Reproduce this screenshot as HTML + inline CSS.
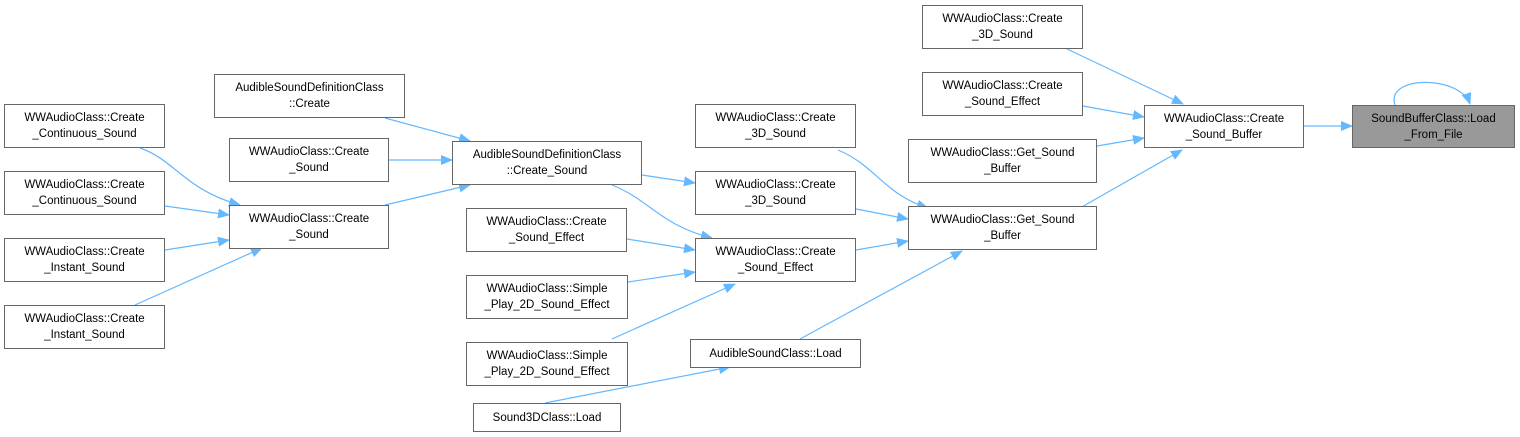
<!DOCTYPE html>
<html><head><meta charset="utf-8"><style>
body{margin:0;width:1520px;height:437px;background:#fff;position:relative;overflow:hidden;font-family:"Liberation Sans",Arial,sans-serif;}
.b{position:absolute;box-sizing:border-box;border:1px solid #666;background:#fff;font-size:11.5px;line-height:16px;color:#000;text-align:center;display:flex;align-items:center;justify-content:center;}
.g{background:#999;}
svg{position:absolute;left:0;top:0;}
</style></head><body>
<svg width="1520" height="437">
<defs><marker id="a" markerWidth="12" markerHeight="10" refX="11" refY="5" orient="auto" markerUnits="userSpaceOnUse"><path d="M0,0 L12,5 L0,10 z" fill="#63b8ff"/></marker></defs>
<g stroke="#63b8ff" stroke-width="1.2" fill="none" marker-end="url(#a)">
<path d="M140,148 C175,160 185,190 240,205"/>
<path d="M165,206 L229,215"/>
<path d="M165,250 L229,240"/>
<path d="M135,305 L262,248"/>
<path d="M385,118 L470,141"/>
<path d="M389,160 L452,160"/>
<path d="M385,205 L470,185"/>
<path d="M642,175 L695,183"/>
<path d="M612,185 C650,200 660,225 712,238"/>
<path d="M627,239 L695,250"/>
<path d="M628,282 L695,272"/>
<path d="M612,339 L735,284"/>
<path d="M545,403 L730,367"/>
<path d="M838,150 C875,165 885,195 928,208"/>
<path d="M856,209 L908,219"/>
<path d="M856,250 L908,241"/>
<path d="M800,339 L962,251"/>
<path d="M1065,48 L1183,104"/>
<path d="M1083,106 L1144,117"/>
<path d="M1097,146 L1144,138"/>
<path d="M1080,208 L1182,150"/>
<path d="M1304,126 L1352,126"/>
<path d="M1395,105 C1385,75 1460,75 1470,104"/>
</g>
</svg>
<div class="b" style="left:4px;top:104px;width:161px;height:44px">WWAudioClass::Create<br>_Continuous_Sound</div>
<div class="b" style="left:4px;top:171px;width:161px;height:44px">WWAudioClass::Create<br>_Continuous_Sound</div>
<div class="b" style="left:4px;top:238px;width:161px;height:44px">WWAudioClass::Create<br>_Instant_Sound</div>
<div class="b" style="left:4px;top:305px;width:161px;height:44px">WWAudioClass::Create<br>_Instant_Sound</div>
<div class="b" style="left:214px;top:74px;width:191px;height:44px">AudibleSoundDefinitionClass<br>::Create</div>
<div class="b" style="left:229px;top:138px;width:160px;height:44px">WWAudioClass::Create<br>_Sound</div>
<div class="b" style="left:229px;top:205px;width:160px;height:44px">WWAudioClass::Create<br>_Sound</div>
<div class="b" style="left:452px;top:141px;width:190px;height:44px">AudibleSoundDefinitionClass<br>::Create_Sound</div>
<div class="b" style="left:466px;top:208px;width:161px;height:44px">WWAudioClass::Create<br>_Sound_Effect</div>
<div class="b" style="left:466px;top:275px;width:162px;height:44px">WWAudioClass::Simple<br>_Play_2D_Sound_Effect</div>
<div class="b" style="left:466px;top:342px;width:162px;height:44px">WWAudioClass::Simple<br>_Play_2D_Sound_Effect</div>
<div class="b" style="left:473px;top:403px;width:148px;height:29px">Sound3DClass::Load</div>
<div class="b" style="left:695px;top:104px;width:161px;height:44px">WWAudioClass::Create<br>_3D_Sound</div>
<div class="b" style="left:695px;top:171px;width:161px;height:44px">WWAudioClass::Create<br>_3D_Sound</div>
<div class="b" style="left:695px;top:238px;width:161px;height:44px">WWAudioClass::Create<br>_Sound_Effect</div>
<div class="b" style="left:690px;top:339px;width:171px;height:29px">AudibleSoundClass::Load</div>
<div class="b" style="left:922px;top:5px;width:161px;height:44px">WWAudioClass::Create<br>_3D_Sound</div>
<div class="b" style="left:922px;top:72px;width:161px;height:44px">WWAudioClass::Create<br>_Sound_Effect</div>
<div class="b" style="left:908px;top:139px;width:189px;height:44px">WWAudioClass::Get_Sound<br>_Buffer</div>
<div class="b" style="left:908px;top:206px;width:189px;height:44px">WWAudioClass::Get_Sound<br>_Buffer</div>
<div class="b" style="left:1144px;top:105px;width:160px;height:43px">WWAudioClass::Create<br>_Sound_Buffer</div>
<div class="b g" style="left:1352px;top:105px;width:163px;height:43px">SoundBufferClass::Load<br>_From_File</div>
</body></html>
